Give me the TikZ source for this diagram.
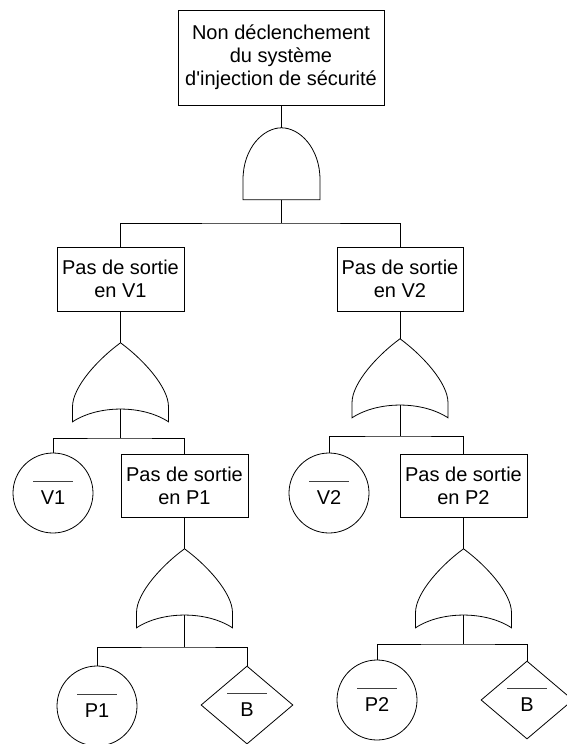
\documentclass[tikz,border=0pt]{standalone}
\usepackage{fontspec}
\setmainfont{Liberation Sans}[Ligatures=TeXOff]
\usetikzlibrary{shapes.geometric}
\tikzset{
  every node/.style={font=\fontsize{20}{22.8}\selectfont},
  line/.style={draw=black, line width=0.8pt},
  evbox/.style={line, rectangle, align=center, inner sep=0pt},
  gatebox/.style={rectangle, draw=none, inner sep=0pt, minimum width=96pt, minimum height=66pt},
  andbox/.style={rectangle, draw=none, inner sep=0pt, minimum width=77pt, minimum height=72pt},
  leafc/.style={line, circle, inner sep=0pt, minimum size=80pt},
  leafd/.style={line, diamond, inner sep=0pt, minimum width=92pt, minimum height=78pt},
  bar/.style={draw=black!75, line width=1pt},
  orgate/.pic={
    \draw[line] (0,0) .. controls (22,16) and (48,44) .. (48,64) -- (48,79)
      .. controls (22,62) and (-22,62) .. (-48,79) -- (-48,64)
      .. controls (-48,44) and (-22,16) .. (0,0);
  },
  andgate/.pic={
    \draw[line] (-38.5,72) -- (-38.5,52) .. controls (-38.5,20) and (-18,0) .. (0,0)
      .. controls (18,0) and (38.5,20) .. (38.5,52) -- (38.5,72) -- cycle;
  }
}
\newcommand{\negtext}[2]{%
  \draw[bar] ([xshift=-20pt,yshift=11.5pt]#1.center) -- ++(40,0);
  \node[anchor=base, yshift=-11.5pt, inner sep=0pt] (#1t) at (#1.center) {#2};
}
\begin{document}
\begin{tikzpicture}[x=1pt, y=-1pt]
\useasboundingbox (0,0) rectangle (566,744);

% events
\node[evbox, minimum width=206pt, minimum height=95pt] (top) at (281,57.5)
  {Non déclenchement\\du système\\d'injection de sécurité};
\node[evbox, minimum width=127pt, minimum height=64pt] (b1) at (120.5,279) {Pas de sortie\\en V1};
\node[evbox, minimum width=126pt, minimum height=64pt] (b2) at (400,279) {Pas de sortie\\en V2};
\node[evbox, minimum width=127pt, minimum height=63pt] (bp1) at (184.5,485.5) {Pas de sortie\\en P1};
\node[evbox, minimum width=127pt, minimum height=63pt] (bp2) at (463.5,485.5) {Pas de sortie\\en P2};

% gates
\node[andbox] (and1) at (281.5,164) {};
\pic at (and1.north) {andgate};
\node[gatebox] (or1) at (120.5,376) {};
\pic at (or1.north) {orgate};
\node[gatebox] (or2) at (400,372) {};
\pic at (or2.north) {orgate};
\node[gatebox] (orp1) at (184.5,582) {};
\pic at (orp1.north) {orgate};
\node[gatebox] (orp2) at (463.5,582) {};
\pic at (orp2.north) {orgate};

% leaves
\node[leafc] (c1) at (53,493) {};
\negtext{c1}{V1}
\node[leafc] (c2) at (329,493) {};
\negtext{c2}{V2}
\node[leafc] (cp1) at (97,706) {};
\negtext{cp1}{P1}
\node[leafd] (d1) at (247,705) {};
\negtext{d1}{B}
\node[leafc] (cp2) at (377,700) {};
\negtext{cp2}{P2}
\node[leafd] (d2) at (527,700) {};
\negtext{d2}{B}

% junctions
\coordinate (j0) at (281.5,223);
\coordinate (j1) at (120.5,438);
\coordinate (j2) at (400,436);
\coordinate (j3) at (184.5,647);
\coordinate (j4) at (463.5,644);

% connectors
\draw[line] (top.south -| and1.north) -- (and1.north);
\draw[line] (and1.south) -- (j0);
\draw[line] (b1.north) |- (j0) -| (b2.north);

\draw[line] (b1.south) -- (or1.north);
\draw[line] (or1.south) -- (j1);
\draw[line] (c1.north) |- (j1) -| (bp1.north);

\draw[line] (b2.south) -- (or2.north);
\draw[line] (or2.south) -- (j2);
\draw[line] (c2.north) |- (j2) -| (bp2.north);

\draw[line] (bp1.south) -- (orp1.north);
\draw[line] (orp1.south) -- (j3);
\draw[line] (cp1.north) |- (j3) -| (d1.north);

\draw[line] (bp2.south) -- (orp2.north);
\draw[line] (orp2.south) -- (j4);
\draw[line] (cp2.north) |- (j4) -| (d2.north);
\end{tikzpicture}
\end{document}
